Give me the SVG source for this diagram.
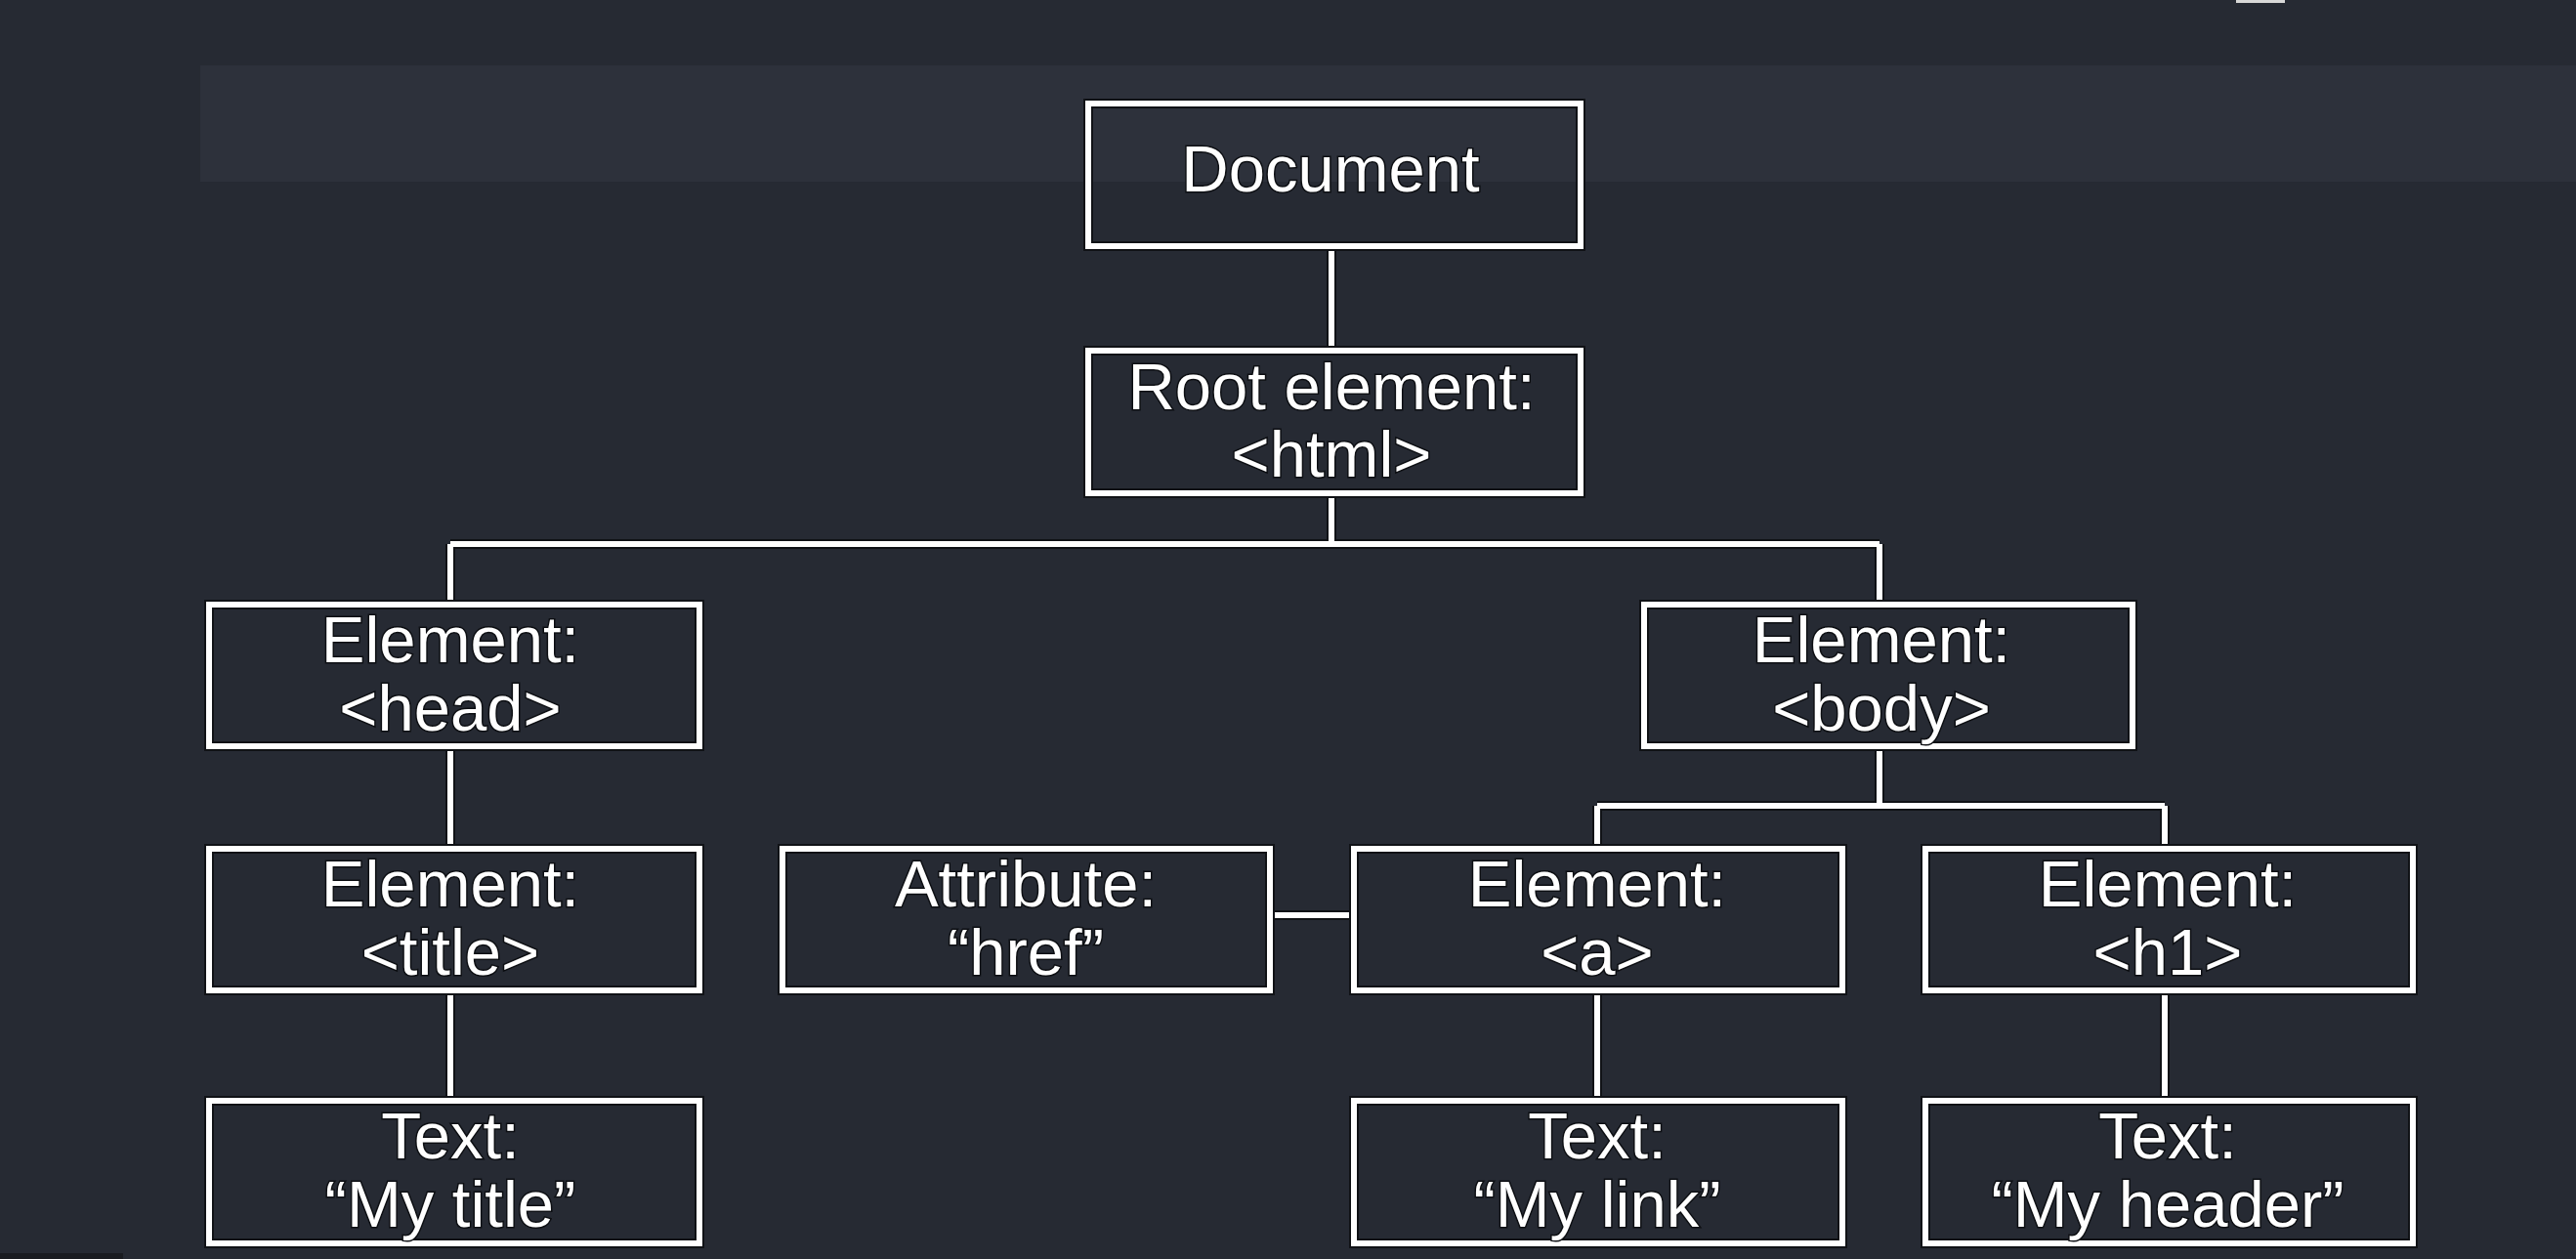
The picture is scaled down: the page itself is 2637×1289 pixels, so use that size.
<svg xmlns="http://www.w3.org/2000/svg" width="2637" height="1289" viewBox="0 0 2637 1289">
  <style>
    .halo { fill: none; stroke: #101216; stroke-width: 10; }
    .box { fill: none; stroke: #ffffff; stroke-width: 6; }
    .wire { fill: none; stroke: #ffffff; stroke-width: 6; }
    .wirehalo { fill: none; stroke: #101216; stroke-width: 10; }
    text { font-family: "Liberation Sans", Arial, sans-serif; font-size: 67px; fill: #ffffff; text-anchor: middle; stroke: #0d0f13; stroke-width: 3; paint-order: stroke; }
  </style>
  <rect x="0" y="0" width="2637" height="1289" fill="#262a33"/>
  <rect x="205" y="67" width="2432" height="119" fill="#2d313b"/>
  <rect x="0" y="1283" width="126" height="6" fill="#1a1c21"/>
  <rect x="2289" y="0" width="50" height="3" fill="#d8d8d8"/>

  <g id="connectors">
    <path class="wirehalo" d="M1363 252V359 M1363 505V557 M461 557H1924 M461 557V619 M1924 557V619 M461 764V869 M461 1014V1127 M1924 764V825 M1635 825H2216 M1635 825V869 M2216 825V869 M1635 1014V1127 M2216 1014V1127 M1300 937H1386"/>
    <path class="wire" d="M1363 252V359 M1363 505V557 M461 557H1924 M461 557V619 M1924 557V619 M461 764V869 M461 1014V1127 M1924 764V825 M1635 825H2216 M1635 825V869 M2216 825V869 M1635 1014V1127 M2216 1014V1127 M1300 937H1386"/>
  </g>

  <g id="document">
    <rect class="halo" x="1114" y="106" width="504" height="146"/>
    <rect class="box" x="1114" y="106" width="504" height="146"/>
    <text x="1362" y="196">Document</text>
  </g>
  <g id="root">
    <rect class="halo" x="1114" y="359" width="504" height="146"/>
    <rect class="box" x="1114" y="359" width="504" height="146"/>
    <text x="1363" y="419">Root element:</text>
    <text x="1363" y="488">&lt;html&gt;</text>
  </g>
  <g id="head">
    <rect class="halo" x="214" y="619" width="502" height="145"/>
    <rect class="box" x="214" y="619" width="502" height="145"/>
    <text x="461" y="678">Element:</text>
    <text x="461" y="748">&lt;head&gt;</text>
  </g>
  <g id="body">
    <rect class="halo" x="1683" y="619" width="500" height="145"/>
    <rect class="box" x="1683" y="619" width="500" height="145"/>
    <text x="1926" y="678">Element:</text>
    <text x="1926" y="748">&lt;body&gt;</text>
  </g>
  <g id="title">
    <rect class="halo" x="214" y="869" width="502" height="145"/>
    <rect class="box" x="214" y="869" width="502" height="145"/>
    <text x="461" y="928">Element:</text>
    <text x="461" y="998">&lt;title&gt;</text>
  </g>
  <g id="attribute">
    <rect class="halo" x="801" y="869" width="499" height="145"/>
    <rect class="box" x="801" y="869" width="499" height="145"/>
    <text x="1050" y="928">Attribute:</text>
    <text x="1050" y="998">“href”</text>
  </g>
  <g id="a">
    <rect class="halo" x="1386" y="869" width="500" height="145"/>
    <rect class="box" x="1386" y="869" width="500" height="145"/>
    <text x="1635" y="928">Element:</text>
    <text x="1635" y="998">&lt;a&gt;</text>
  </g>
  <g id="h1">
    <rect class="halo" x="1971" y="869" width="499" height="145"/>
    <rect class="box" x="1971" y="869" width="499" height="145"/>
    <text x="2219" y="928">Element:</text>
    <text x="2219" y="998">&lt;h1&gt;</text>
  </g>
  <g id="text-title">
    <rect class="halo" x="214" y="1127" width="502" height="146"/>
    <rect class="box" x="214" y="1127" width="502" height="146"/>
    <text x="461" y="1186">Text:</text>
    <text x="461" y="1256">“My title”</text>
  </g>
  <g id="text-link">
    <rect class="halo" x="1386" y="1127" width="500" height="146"/>
    <rect class="box" x="1386" y="1127" width="500" height="146"/>
    <text x="1635" y="1186">Text:</text>
    <text x="1635" y="1256">“My link”</text>
  </g>
  <g id="text-header">
    <rect class="halo" x="1971" y="1127" width="499" height="146"/>
    <rect class="box" x="1971" y="1127" width="499" height="146"/>
    <text x="2219" y="1186">Text:</text>
    <text x="2219" y="1256">“My header”</text>
  </g>
</svg>
